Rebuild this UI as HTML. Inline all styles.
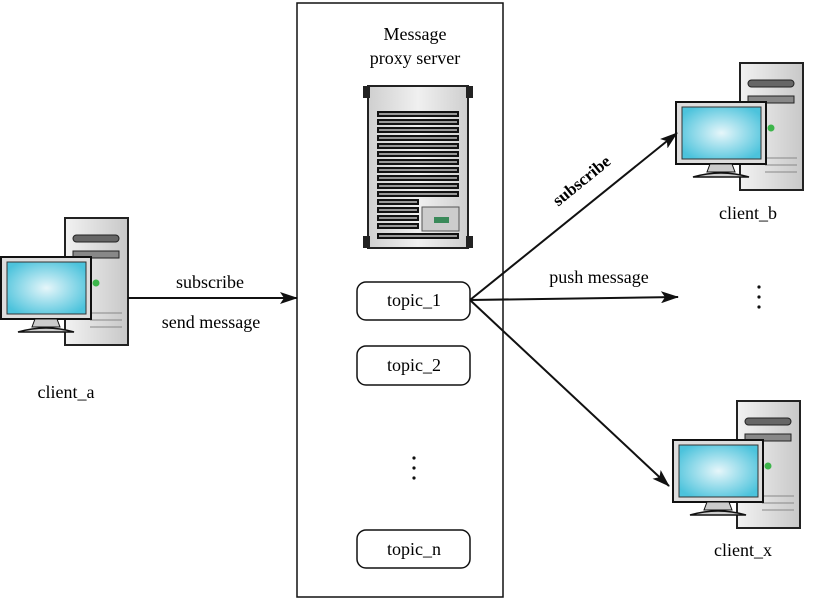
<!DOCTYPE html>
<html><head><meta charset="utf-8"><style>
html,body{margin:0;padding:0;background:#fff;}
svg{display:block;font-family:"Liberation Serif",serif;}
</style></head><body>
<svg width="813" height="600" viewBox="0 0 813 600" xmlns="http://www.w3.org/2000/svg">
<defs>
<radialGradient id="scr" cx="50%" cy="50%" r="60%">
<stop offset="0" stop-color="#e6f6fa"/><stop offset="1" stop-color="#4cc3dc"/>
</radialGradient>
<linearGradient id="tw" x1="0" x2="1"><stop offset="0" stop-color="#f2f2f2"/><stop offset="1" stop-color="#c8c8c8"/></linearGradient>
<linearGradient id="sv" x1="0" x2="1"><stop offset="0" stop-color="#cfcfcf"/><stop offset="0.5" stop-color="#f0f0f0"/><stop offset="1" stop-color="#cfcfcf"/></linearGradient>
<marker id="ah" markerWidth="18" markerHeight="12" refX="17" refY="6" orient="auto" markerUnits="userSpaceOnUse">
<path d="M0,0 L18,6 L0,12 L4,6 z" fill="#111"/></marker>
<g id="client">
<rect x="65" y="218" width="63" height="127" fill="url(#tw)" stroke="#222" stroke-width="2"/>
<rect x="73" y="235" width="46" height="7" rx="3.5" fill="#666" stroke="#222"/>
<rect x="73" y="251" width="46" height="7" fill="#888" stroke="#222"/>
<circle cx="96" cy="283" r="3.5" fill="#3cb54a"/>
<line x1="90" y1="313" x2="122" y2="313" stroke="#888"/>
<line x1="90" y1="320" x2="122" y2="320" stroke="#888"/>
<line x1="90" y1="327" x2="122" y2="327" stroke="#888"/>
<rect x="1" y="257" width="90" height="62" fill="#ddd" stroke="#111" stroke-width="2"/>
<rect x="7" y="262" width="79" height="52" fill="url(#scr)" stroke="#333"/>
<path d="M35,319 L57,319 L60,327 L32,327 z" fill="#ccc" stroke="#111"/>
<path d="M18,332 Q46,324 74,332 z" fill="#ccc" stroke="#111" stroke-width="1.5"/>
</g>
</defs>
<rect x="297" y="3" width="206" height="594" fill="#fff" stroke="#111" stroke-width="1.5"/>
<text x="415" y="40" font-size="18" text-anchor="middle">Message</text>
<text x="415" y="64" font-size="18" text-anchor="middle">proxy server</text>
<!-- server -->
<rect x="368" y="86" width="100" height="162" fill="url(#sv)" stroke="#222" stroke-width="2"/>
<rect x="363" y="86" width="7" height="12" fill="#222"/><rect x="466" y="86" width="7" height="12" fill="#222"/>
<rect x="363" y="236" width="7" height="12" fill="#222"/><rect x="466" y="236" width="7" height="12" fill="#222"/>
<g fill="#999" stroke="#111" stroke-width="2">
<rect x="378" y="112" width="80" height="4"/><rect x="378" y="120" width="80" height="4"/>
<rect x="378" y="128" width="80" height="4"/><rect x="378" y="136" width="80" height="4"/>
<rect x="378" y="144" width="80" height="4"/><rect x="378" y="152" width="80" height="4"/>
<rect x="378" y="160" width="80" height="4"/><rect x="378" y="168" width="80" height="4"/>
<rect x="378" y="176" width="80" height="4"/><rect x="378" y="184" width="80" height="4"/>
<rect x="378" y="192" width="80" height="4"/><rect x="378" y="200" width="40" height="4"/>
<rect x="378" y="208" width="40" height="4"/><rect x="378" y="216" width="40" height="4"/>
<rect x="378" y="224" width="40" height="4"/><rect x="378" y="234" width="80" height="4"/>
</g>
<rect x="422" y="207" width="37" height="24" fill="#ccc" stroke="#555"/>
<rect x="434" y="217" width="15" height="6" fill="#3a8a5a"/>
<g fill="#fff" stroke="#111" stroke-width="1.5">
<rect x="357" y="282" width="113" height="38" rx="9"/>
<rect x="357" y="346" width="113" height="39" rx="9"/>
<rect x="357" y="530" width="113" height="38" rx="9"/>
</g>
<g font-size="18" text-anchor="middle">
<text x="414" y="306">topic_1</text>
<text x="414" y="371">topic_2</text>
<text x="414" y="555">topic_n</text>
</g>
<g fill="#111"><circle cx="414" cy="458" r="1.6"/><circle cx="414" cy="468" r="1.6"/><circle cx="414" cy="478" r="1.6"/>
<circle cx="759" cy="287" r="1.6"/><circle cx="759" cy="297" r="1.6"/><circle cx="759" cy="307" r="1.6"/></g>
<use href="#client"/>
<use href="#client" transform="translate(675,-155)"/>
<use href="#client" transform="translate(672,183)"/>
<g font-size="18" text-anchor="middle">
<text x="66" y="398">client_a</text>
<text x="748" y="219">client_b</text>
<text x="743" y="556">client_x</text>
<text x="210" y="288">subscribe</text>
<text x="211" y="328">send  message</text>
<text x="599" y="283">push message</text>
<text x="585" y="185" transform="rotate(-39 585 185)" font-weight="bold" font-size="17">subscribe</text>
</g>
<g stroke="#111" stroke-width="2" fill="none" marker-end="url(#ah)">
<line x1="128" y1="298" x2="297" y2="298"/>
<line x1="470" y1="300" x2="678" y2="297"/>
<line x1="470" y1="300" x2="677" y2="133"/>
<line x1="470" y1="300" x2="669" y2="486"/>
</g>
</svg>
</body></html>
